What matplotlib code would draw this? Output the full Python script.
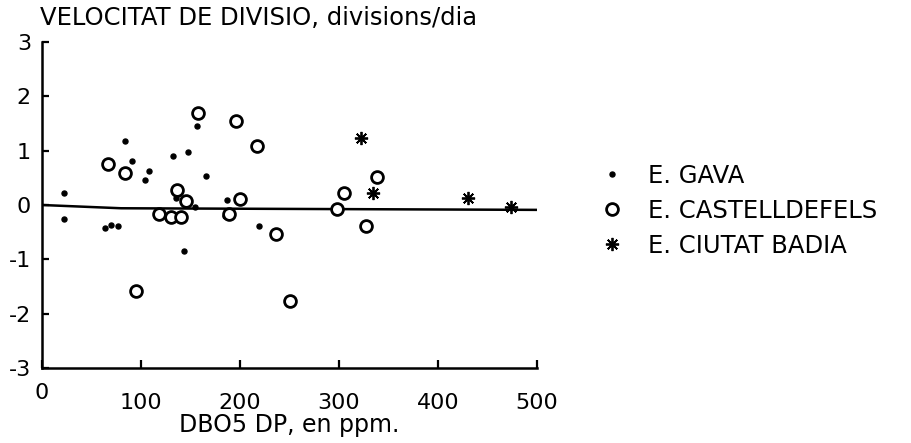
import matplotlib
matplotlib.use("Agg")
from matplotlib import pyplot as plt
from matplotlib.transforms import ScaledTranslation

plt.rcParams['font.family'] = ['DejaVu Sans']
plt.rcParams['axes.unicode_minus'] = False

# dades llegides del grafic
gava_x = [22, 22, 64, 70, 77, 84, 91, 104, 108, 132, 135, 143, 147, 155, 157, 166, 185, 187, 219]
gava_y = [0.22, -0.25, -0.42, -0.37, -0.38, 1.17, 0.81, 0.46, 0.63, 0.90, 0.12, -0.85, 0.97,
          -0.04, 1.46, 0.54, -0.20, 0.09, -0.39]

cast_x = [67, 84, 95, 118, 130, 136, 140, 145, 158, 189, 196, 200, 217, 236, 251, 298, 305, 327, 338]
cast_y = [0.75, 0.59, -1.59, -0.16, -0.22, 0.28, -0.23, 0.07, 1.69, -0.16, 1.54, 0.11, 1.08,
          -0.54, -1.76, -0.08, 0.22, -0.38, 0.52]

badia_x = [322, 334, 430, 474]
badia_y = [1.23, 0.22, 0.12, -0.03]

fit_x = [0, 80, 505]
fit_y = [0.0, -0.06, -0.09]

xticks = [0, 100, 200, 300, 400, 500]
yticks = [-3, -2, -1, 0, 1, 2, 3]

fs = 16

fig = plt.figure(figsize=(9.12, 4.43), dpi=100)
ax = fig.add_axes([42 / 912, 1 - 368 / 443, 495 / 912, 326 / 443])

ax.plot(fit_x, fit_y, color='black', lw=1.8, zorder=2)
ax.plot(gava_x, gava_y, ls='none', marker='o', ms=3.6, color='black', label='E. GAVA', zorder=3)
ax.plot(cast_x, cast_y, ls='none', marker='o', ms=8.5, mfc='white', mec='black', mew=2.0,
        label='E. CASTELLDEFELS', zorder=3)
ax.plot(badia_x, badia_y, ls='none', marker=(8, 2, 0), ms=9.5, color='black', mew=1.3,
        label='E. CIUTAT BADIA', zorder=4)

ax.set_xlim(0, 500)
ax.set_ylim(-3, 3)
ax.set_xticks(xticks)
ax.set_yticks(yticks)

for s in ['top', 'right']:
    ax.spines[s].set_visible(False)
for s in ['left', 'bottom']:
    ax.spines[s].set_linewidth(1.8)
ax.tick_params(axis='y', direction='in', length=5, width=1.6, labelsize=fs, pad=8)
ax.tick_params(axis='x', direction='in', length=6, width=1.6, labelsize=fs, pad=18)

# el "0" de l'eix x esta una mica mes amunt
lab0 = ax.get_xticklabels()[0]
lab0.set_transform(lab0.get_transform() + ScaledTranslation(0, 7 / 72, fig.dpi_scale_trans))

ax.set_xlabel('DBO5 DP, en ppm.', fontsize=17, labelpad=0)
fig.text(40 / 912, 1 - 18 / 443, 'VELOCITAT DE DIVISIO, divisions/dia', fontsize=17.5,
         ha='left', va='center')

ax.legend(loc='upper left', bbox_to_anchor=(590 / 912, 1 - 154 / 443),
          bbox_transform=fig.transFigure, frameon=False, fontsize=17.5,
          handlelength=1.0, handletextpad=1.0, labelspacing=0.45, borderaxespad=0)

fig.savefig('out.png', dpi=100)
